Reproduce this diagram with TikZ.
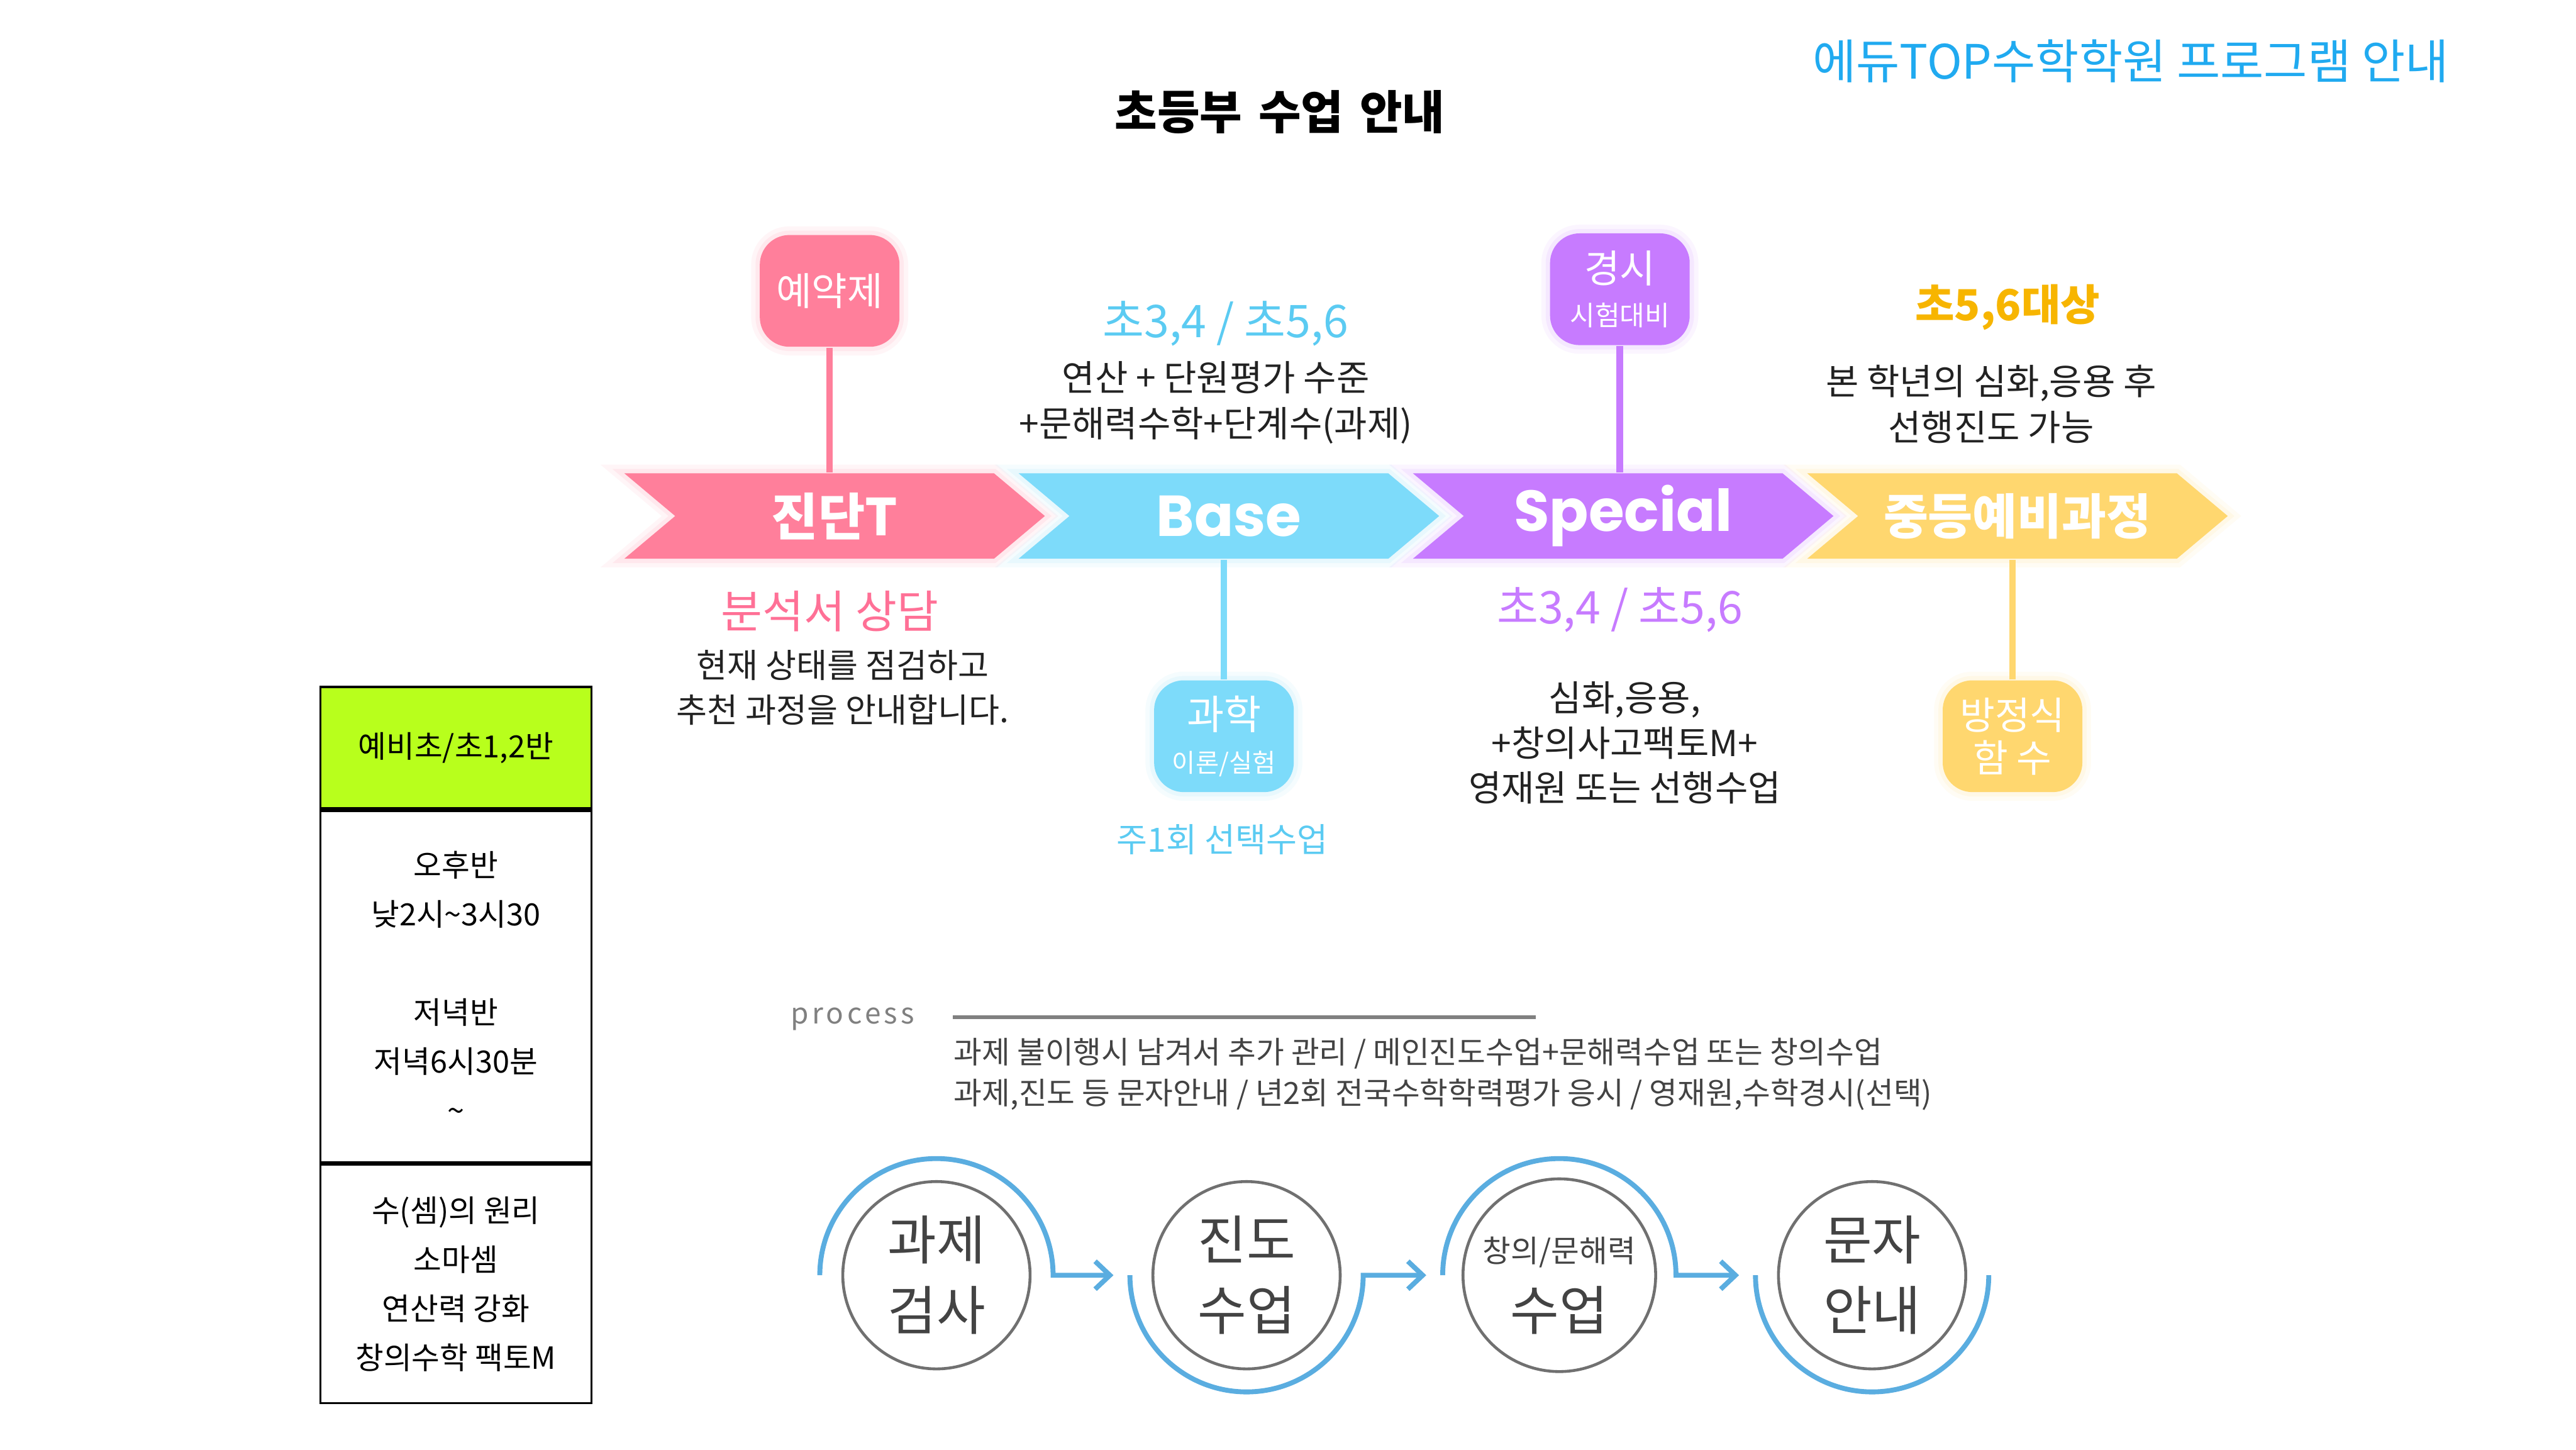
\documentclass[tikz,border=0pt]{standalone}
\usepackage{fontspec}
\setmainfont{Noto Sans CJK KR}
\newfontfamily\popfont{Poppins}
\usetikzlibrary{arrows.meta,positioning,shapes.symbols}
\definecolor{jpink}{HTML}{FF7F9B}
\definecolor{jblue}{HTML}{7DDBFA}
\definecolor{jpurple}{HTML}{C77BFF}
\definecolor{jyellow}{HTML}{FFD76F}
\definecolor{pinktxt}{HTML}{FF7096}
\definecolor{bluetxt}{HTML}{5BCBF2}
\definecolor{yellowtxt}{HTML}{F7B500}
\definecolor{brandblue}{HTML}{20AAF0}
\definecolor{limegreen}{HTML}{B8FF1C}
\definecolor{flowblue}{HTML}{5AADE0}
\definecolor{ringgray}{HTML}{707070}
\definecolor{darktxt}{HTML}{222222}
\newcommand{\fsz}[2]{\fontsize{#1pt}{#2pt}\selectfont}

\begin{document}
\begin{tikzpicture}[
    glow/.style={preaction={draw=#1,line width=3pt,opacity=.07},
                 preaction={draw=#1,line width=1.5pt,opacity=.1}},
    chev/.style={signal,signal from=west,signal to=east,signal pointer angle=80,
                 minimum width=2.56cm,minimum height=0.52cm,inner sep=0pt,
                 fill=#1,text=white,glow=#1},
    tagbox/.style={rounded corners=0.18cm,fill=#1,minimum width=0.85cm,
                 minimum height=0.68cm,inner sep=0pt,text=white,align=center,glow=#1},
    link/.style={#1,line width=0.04cm},
    body/.style={font=\fsz{6.2}{8},text=darktxt,align=center},
    cell/.style={draw,line width=0.4pt,minimum width=1.65cm,inner sep=0pt,
                 font=\fsz{5.3}{8.5},align=center},
    ring/.style={circle,draw=ringgray,line width=0.5pt,minimum size=1.14cm,inner sep=0pt,
                 font=\fsz{9.2}{12.2},text=darktxt!85,align=center},
    flow/.style={flowblue,line width=0.03cm,-{Straight Barb[length=0.09cm,width=0.17cm]}}
  ]
    \useasboundingbox (0,0) rectangle (15.68,-8.82);
    \fill[white] (0,0) rectangle (15.68,-8.82);

    \node[font=\bfseries\fsz{8}{9}] (title) at (7.79,-0.68) {초등부\hspace{0.35em}수업\hspace{0.35em}안내};
    \node[font=\fsz{8.2}{9},text=brandblue] (brand) at (12.97,-0.37) {에듀TOP수학학원 프로그램 안내};

    \node[tagbox=jpink,font=\fsz{6.7}{8}] (yak) at (5.05,-1.77) {예약제};
    \node[tagbox=jpurple,font=\fsz{6.7}{7.4}] (gyeong) at (9.86,-1.76) {경시\\\fsz{4.7}{7.4}시험대비};
    \node[tagbox=jblue,font=\fsz{7}{7.4}] (gwa) at (7.45,-4.48) {과학\\\fsz{4.4}{7.4}이론/실험};
    \node[tagbox=jyellow,font=\fsz{6.6}{7.4}] (bang) at (12.25,-4.48) {방정식\\함 수};

    \node[chev=jpink,font=\bfseries\fsz{8.8}{10}] (jindan) at (5.08,-3.14) {진단T};
    \node[chev=jblue,font=\popfont\bfseries\fsz{10}{11}] (base) at (7.48,-3.14) {Base};
    \node[chev=jpurple,font=\popfont\bfseries\fsz{10}{11}] (special) at (9.88,-3.14) {Special};
    \node[chev=jyellow,font=\bfseries\fsz{8.4}{10}] (yebi) at (12.28,-3.14) {중등예비과정};

    \draw[link=jpink] (yak) -- (yak |- jindan.north);
    \draw[link=jpurple] (gyeong) -- (gyeong |- special.north);
    \draw[link=jblue] (gwa) -- (gwa |- base.south);
    \draw[link=jyellow] (bang) -- (bang |- yebi.south);

    \node[font=\fsz{7.8}{9},text=bluetxt] (bgrade) at (7.46,-1.97) {초3,4 / 초5,6};
    \node[body] (bdesc) at (7.40,-2.45) {연산 + 단원평가 수준\\+문해력수학+단계수(과제)};
    \node[font=\fsz{7.8}{8},text=pinktxt] (consult) at (5.05,-3.72) {분석서 상담};
    \node[body,font=\fsz{5.8}{7.7}] (jdesc) at (5.13,-4.185) {현재 상태를 점검하고\\추천 과정을 안내합니다.};
    \node[font=\fsz{5.8}{7},text=bluetxt] (weekly) at (7.44,-5.11) {주1회 선택수업};
    \node[font=\fsz{7.8}{9},text=jpurple] (sgrade) at (9.86,-3.71) {초3,4 / 초5,6};
    \node[body,font=\fsz{6.2}{7.8}] (sdesc) at (9.89,-4.52) {심화,응용,\\+창의사고팩토M+\\영재원 또는 선행수업};
    \node[font=\bfseries\fsz{7.4}{9},text=yellowtxt] (ygrade) at (12.22,-1.87) {초5,6대상};
    \node[body] (ydesc) at (12.12,-2.46) {본 학년의 심화,응용 후\\선행진도 가능};

    \node[cell,fill=limegreen,minimum height=0.74cm] (thead) at (2.775,-4.55) {예비초/초1,2반};
    \node[cell,minimum height=2.14cm,below=0pt of thead] (ttime)
      {오후반\\낮2시\textasciitilde3시30\\[8.5pt]저녁반\\저녁6시30분\\\textasciitilde};
    \node[cell,minimum height=1.45cm,below=0pt of ttime] (tbook)
      {수(셈)의 원리\\소마셈\\연산력 강화\\창의수학 팩토M};

    \node[font=\fsz{5}{6}\addfontfeature{LetterSpace=12},text=gray] (proc) at (5.19,-6.20) {process};
    \coordinate (ruleL) at (5.80,-6.19);
    \coordinate (ruleR) at (9.35,-6.19);
    \draw[gray,line width=0.6pt] (ruleL) -- (ruleR);
    \node[anchor=west,inner sep=0pt,font=\fsz{5.3}{6},text=darktxt!85] (note1) at (5.80,-6.41)
      {과제 불이행시 남겨서 추가 관리 / 메인진도수업+문해력수업 또는 창의수업};
    \node[anchor=west,inner sep=0pt,font=\fsz{5.3}{6},text=darktxt!85] (note2) at (5.80,-6.66)
      {과제,진도 등 문자안내 / 년2회 전국수학학력평가 응시 / 영재원,수학경시(선택)};

    \node[ring] (k1) at (5.70,-7.76) {과제\\검사};
    \node[ring,right=0.73cm of k1] (k2) {진도\\수업};
    \node[ring,right=0.73cm of k2] (k3) {\rule{0pt}{8pt}{\fsz{5.3}{6}창의/문해력}\\[-0.5pt]수업};
    \node[ring,right=0.73cm of k3] (k4) {문자\\안내};

    \draw[flow] ([xshift=-7.1mm]k1.center) arc[start angle=180,end angle=0,radius=7.1mm]
      -- ([xshift=-8.1mm]k2.center);
    \draw[flow] ([xshift=-7.1mm]k2.center) arc[start angle=180,end angle=360,radius=7.1mm]
      -- ([xshift=-8.1mm]k3.center);
    \draw[flow] ([xshift=-7.1mm]k3.center) arc[start angle=180,end angle=0,radius=7.1mm]
      -- ([xshift=-8.1mm]k4.center);
    \draw[flow,-] ([xshift=-7.1mm]k4.center) arc[start angle=180,end angle=360,radius=7.1mm];
  \end{tikzpicture}
\end{document}
